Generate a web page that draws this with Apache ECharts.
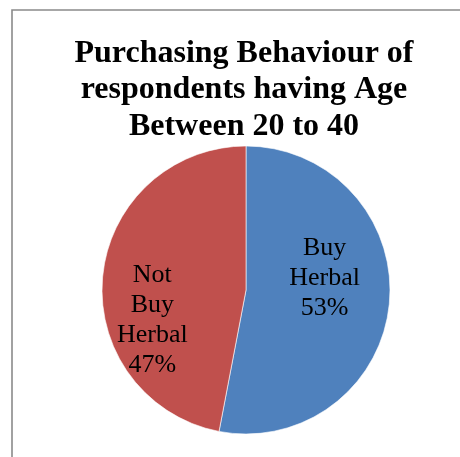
<!DOCTYPE html>
<html>
<head>
<meta charset="utf-8">
<style>
  html, body { margin: 0; padding: 0; background: #fff; }
  #chart { width: 460px; height: 457px; }
</style>
<script src="https://cdn.jsdelivr.net/npm/echarts@6/dist/echarts.min.js"></script>
</head>
<body>
<div id="chart"></div>
<script>
// Survey answers, age group 20 to 40
const categories = ['Buy Herbal', 'Not Buy Herbal'];
const shares = [53, 47];

const titleText = 'Purchasing Behaviour of\nrespondents having Age\nBetween 20 to 40';

// Slice colours and label nudges, one per category
const sliceColors = ['#4F81BD', '#C0504D'];
const labelOffsets = [[4, -19], [-19, 37]];

const chart = echarts.init(document.getElementById('chart'), null, { renderer: 'canvas' });

const pieData = categories.map((name, i) => ({
  name: name,
  value: shares[i],
  itemStyle: { color: sliceColors[i] },
  label: { offset: labelOffsets[i] }
}));

chart.setOption({
  animation: false,
  backgroundColor: '#ffffff',
  title: {
    text: titleText,
    left: 239,
    textAlign: 'center',
    top: 30,
    textStyle: {
      fontFamily: 'Liberation Serif',
      fontWeight: 'bold',
      fontSize: 32,
      lineHeight: 36.5,
      color: '#000000'
    }
  },
  graphic: [{
    type: 'rect',
    shape: { x: 12, y: 10, width: 470, height: 470 },
    style: { fill: 'none', stroke: '#8a8a8a', lineWidth: 1.6 },
    silent: true,
    z: 0
  }],
  series: [{
    type: 'pie',
    center: [246, 290],
    radius: [0, 144],
    startAngle: 90,
    clockwise: true,
    avoidLabelOverlap: false,
    itemStyle: { borderColor: '#ffffff', borderWidth: 0.6 },
    label: {
      show: true,
      position: 'inside',
      fontFamily: 'Liberation Serif',
      fontSize: 26,
      lineHeight: 30,
      color: '#000000',
      align: 'center',
      formatter: p => p.name.split(' ').join('\n') + '\n' + Math.round(p.percent) + '%'
    },
    labelLine: { show: false },
    emphasis: { disabled: true },
    data: pieData
  }]
});
</script>
</body>
</html>
